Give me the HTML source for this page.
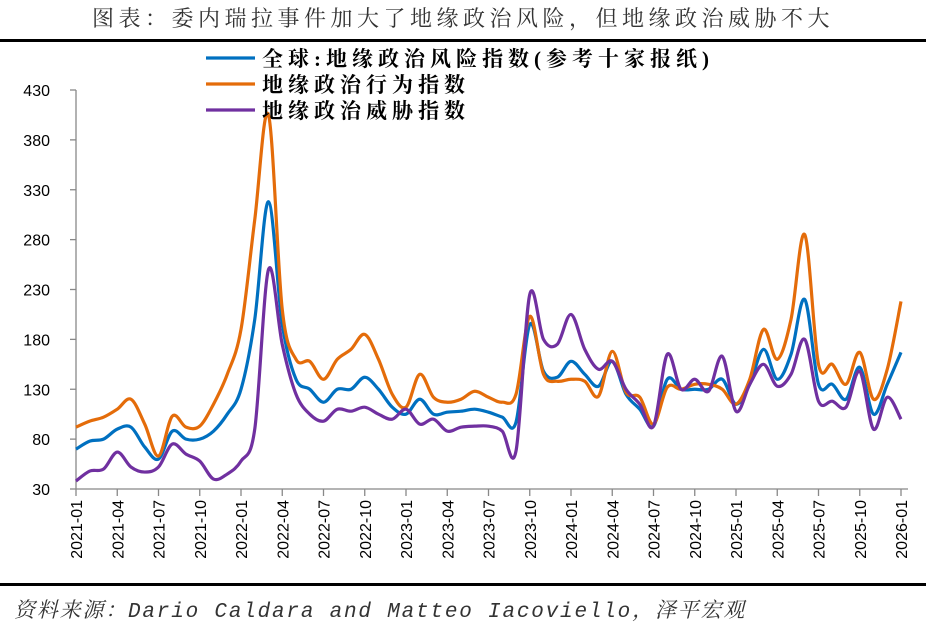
<!DOCTYPE html>
<html><head><meta charset="utf-8"><style>
html,body{margin:0;padding:0;background:#fff;}
svg{display:block;font-family:"Liberation Sans","Noto Sans CJK SC",sans-serif;}
</style></head><body>
<svg id="chart" width="926" height="629" viewBox="0 0 926 629" xmlns="http://www.w3.org/2000/svg">
<text x="463" y="26" text-anchor="middle" font-size="22" fill="#333" font-family="'Noto Serif CJK SC','Noto Sans CJK SC',serif" letter-spacing="4.5">图表：委内瑞拉事件加大了地缘政治风险，但地缘政治威胁不大</text>
<rect x="0" y="39" width="926" height="3" fill="#000"/>
<rect x="0" y="583" width="926" height="3" fill="#000"/>
<text x="14" y="617" font-size="21" font-style="italic" fill="#333" letter-spacing="1.8" font-family="'Liberation Mono','Noto Serif CJK SC',monospace">资料来源：Dario Caldara and Matteo Iacoviello，泽平宏观</text>
<g id="axes"></g>
<g id="series"></g>
<g id="legend"></g>
</svg>
<script>
const months = [];
for (let y = 2021; y <= 2026; y++) for (let m = 1; m <= 12; m++) { if (y === 2026 && m > 1) break; months.push(y + '-' + String(m).padStart(2, '0')); }
const yTicks = [30, 80, 130, 180, 230, 280, 330, 380, 430];
const globalRisk = [70,78,80,90,92,72,60,88,80,80,88,105,130,200,318,195,140,130,117,130,130,142,130,112,105,120,105,107,108,110,107,102,97,195,148,142,158,145,133,158,125,110,93,140,130,130,130,140,115,135,170,140,165,220,135,135,120,152,105,135,167];
const actsIndex = [92,98,102,110,120,95,63,103,92,93,115,145,190,300,405,210,160,158,140,160,170,185,160,125,112,145,122,117,120,128,122,117,125,203,145,138,140,138,123,168,127,122,95,132,130,135,135,130,115,140,190,160,200,285,155,155,135,167,120,150,218];
const threatsIndex = [38,48,50,67,52,47,52,75,65,58,40,45,58,90,250,175,125,105,98,110,108,112,105,100,110,95,100,88,92,93,93,88,68,225,180,175,205,170,150,158,130,115,93,165,130,140,128,163,108,135,155,133,145,180,118,118,112,148,90,122,100];
const seriesNames = ['全球:地缘政治风险指数(参考十家报纸)', '地缘政治行为指数', '地缘政治威胁指数'];

const NS = 'http://www.w3.org/2000/svg';
const X0 = 76, X1 = 901, Y0 = 489, Y1 = 90, VMIN = 30, VMAX = 430;
const xScale = i => X0 + (X1 - X0) * i / (months.length - 1);
const yScale = v => Y0 - (v - VMIN) / (VMAX - VMIN) * (Y0 - Y1);
function mk(tag, attrs, parent) { const e = document.createElementNS(NS, tag); for (const k in attrs) e.setAttribute(k, attrs[k]); parent.appendChild(e); return e; }
const axes = document.getElementById('axes');

const yAxis = mk('line', {x1: X0, y1: Y1, x2: X0, y2: Y0, stroke: '#888', 'stroke-width': 1.3}, axes);


const xAxis = mk('line', {x1: X0, y1: Y0, x2: 908, y2: Y0, stroke: '#888', 'stroke-width': 1.3}, axes);



yTicks.forEach(v => {
  const y = yScale(v);
  mk('line', {x1: X0 - 6, y1: y, x2: X0, y2: y, stroke: '#888', 'stroke-width': 1.3}, axes);
  const t = mk('text', {x: 50, y: y + 6, 'text-anchor': 'end', 'font-size': 16, fill: '#000'}, axes);
  
  
  t.textContent = v;
});
months.forEach((m, i) => {
  if (i % 3 !== 0) return;
  const x = xScale(i);
  mk('line', {x1: x, y1: Y0, x2: x, y2: Y0 + 7, stroke: '#888', 'stroke-width': 1.3}, axes);
  const t = mk('text', {x: 0, y: 0, 'text-anchor': 'end', 'font-size': 16, fill: '#000', transform: `translate(${x + 6},500) rotate(-90)`}, axes);
  
  
  t.textContent = m;
});

function smoothPath(vals) {
  const p = vals.map((v, i) => [xScale(i), yScale(v)]);
  let d = `M${p[0][0]},${p[0][1]}`;
  for (let i = 0; i < p.length - 1; i++) {
    const p0 = p[i - 1] || p[i], p1 = p[i], p2 = p[i + 1], p3 = p[i + 2] || p2;
    const c1 = [p1[0] + (p2[0] - p0[0]) / 6, p1[1] + (p2[1] - p0[1]) / 6];
    const c2 = [p2[0] - (p3[0] - p1[0]) / 6, p2[1] - (p3[1] - p1[1]) / 6];
    d += ` C${c1[0]},${c1[1]} ${c2[0]},${c2[1]} ${p2[0]},${p2[1]}`;
  }
  return d;
}
const sg = document.getElementById('series');
const lg = document.getElementById('legend');
const allSeries = [[threatsIndex, '#7030a0', 'threats-index-line', 2], [globalRisk, '#0070c0', 'global-risk-line', 0], [actsIndex, '#e46c0a', 'acts-index-line', 1]];
[allSeries[1], allSeries[2], allSeries[0]].forEach(s => {
  const path = mk('path', {d: smoothPath(s[0]), fill: 'none', stroke: s[1], 'stroke-width': 3.2, 'stroke-linejoin': 'round'}, sg);
  
  
});
allSeries.forEach(s => {
  const k = s[3], y = 58 + k * 26;
  const l = mk('line', {x1: 206, y1: y, x2: 255, y2: y, stroke: s[1], 'stroke-width': 3.2}, lg);
  
  
  const t = mk('text', {x: 262, y: y + 8, 'font-size': 21, 'font-weight': 'bold', fill: '#000', 'letter-spacing': 5, 'font-family': "'Liberation Serif','Noto Serif CJK SC',serif"}, lg);
  
  
  t.textContent = seriesNames[k];
});
</script>
</body></html>
